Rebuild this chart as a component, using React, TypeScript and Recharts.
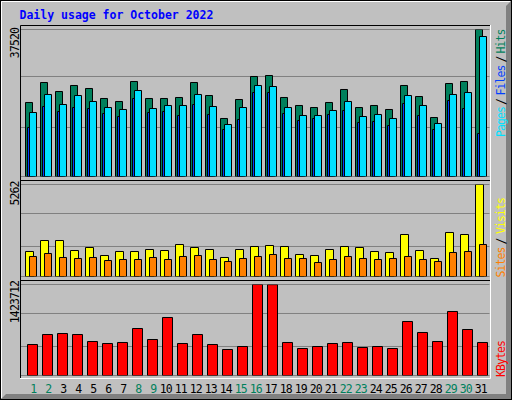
import React from 'react';
import { BarChart, Bar, XAxis, YAxis, CartesianGrid } from 'recharts';

// ---------- data ----------
const days = ['1','2','3','4','5','6','7','8','9','10','11','12','13','14','15','16','17','18','19','20','21','22','23','24','25','26','27','28','29','30','31'];
const weekendDays = ['1','2','8','9','15','16','22','23','29','30'];

const hits = [18888, 23992, 21695, 23227, 22461, 19909, 19143, 24248, 19909, 19909, 20164, 23992, 20674, 14804, 19653, 25524, 25779, 20164, 18122, 17611, 18888, 22206, 17611, 18122, 17101, 23227, 20419, 15059, 23737, 24248, 37520];
const files = [12507, 17867, 16590, 17611, 17356, 16080, 15314, 19909, 16335, 16590, 15570, 18377, 15825, 11996, 14549, 21440, 21440, 16080, 14293, 14804, 15825, 16846, 13783, 14038, 13017, 18632, 15570, 11996, 19398, 17356, 10975];
const pages = [16335, 20930, 18377, 20674, 19143, 17611, 17101, 21950, 17356, 18122, 18122, 20930, 17867, 13272, 17611, 23227, 22971, 17611, 15570, 15570, 16846, 19143, 15314, 15825, 14804, 20674, 18122, 13528, 20930, 21440, 35733];

const visits = [1430, 2059, 2059, 1487, 1659, 1201, 1430, 1430, 1544, 1487, 1830, 1659, 1544, 1087, 1544, 1716, 1773, 1716, 1258, 1201, 1544, 1716, 1659, 1430, 1373, 2402, 1487, 1030, 2517, 2402, 5262];
const sites = [1144, 1316, 1087, 1030, 1087, 915, 972, 972, 1087, 972, 1144, 1201, 972, 858, 1030, 1144, 1258, 1030, 1030, 801, 972, 1144, 1030, 972, 1030, 1144, 972, 858, 1373, 1430, 1830];

const kbytes = [485001, 641453, 657098, 641453, 531937, 500646, 516292, 735324, 563227, 907422, 500646, 641453, 485001, 406775, 453711, 1423712, 1421500, 516292, 422420, 453711, 500646, 516292, 438066, 453711, 422420, 844841, 672744, 531937, 1001293, 719679, 516292];

const hitsMax = 37520;
const visitsMax = 5262;
const kbytesMax = 1423712;
const hitsGrid = [12507, 25524];
const visitsGrid = [1716, 3603];
const kbytesGrid = [453711, 970002];

const title = 'Daily usage for October 2022';

// ---------- styles ----------
const GREEN = '#00805c';
const FILES = '#0040ff';
const PAGES = '#00e0ff';
const VISITS = '#ffff00';
const SITES = '#ff8000';
const KBYTES = '#ff0000';
const GREY = '#c0c0c0';
const DKGREY = '#808080';
const MONO = "'DejaVu Sans Mono', monospace";

const hitsData = days.map((d, i) => ({ day: d, hits: hits[i], files: files[i], pages: pages[i] }));
const visitsData = days.map((d, i) => ({ day: d, visits: visits[i], sites: sites[i] }));
const kbytesData = days.map((d, i) => ({ day: d, kbytes: kbytes[i] }));

const layer: React.CSSProperties = { position: 'absolute', left: 0, top: 0 };

function DayTick(props: any) {
  const { x, payload } = props;
  const label = String(payload.value);
  const shift = label.length === 1 ? 1.3 : -1.2;
  const color = weekendDays.includes(label) ? GREEN : '#000';
  return (
    <text x={x + shift} y={393} textAnchor="middle" fill={color} fontFamily={MONO} fontSize={11.5} letterSpacing={-0.9}>
      {label}
    </text>
  );
}

function UpText({ x, y, text, color, anchor }: { x: number; y: number; text: string; color: string; anchor: 'start' | 'end' }) {
  return (
    <text transform={`translate(${x},${y}) rotate(-90)`} textAnchor={anchor} fill={color} fontFamily={MONO} fontSize={11.5} letterSpacing={-0.9}>
      {text}
    </text>
  );
}

export default function App() {
  return (
    <div style={{ position: 'relative', width: 512, height: 400, background: GREY, overflow: 'hidden' }}>
      <style>{'body{margin:0;}'}</style>
      <svg width={512} height={400} style={layer}>
        <rect x={0} y={0} width={512} height={400} fill={GREY} />
        {/* 3d outer border */}
        <polygon points="506,6 511,1 511,399 1,399 6,394 506,394" fill={DKGREY} />
        <path d="M1.5,398 V1.5 H510" stroke="#fff" strokeWidth={1} fill="none" />
        <rect x={0.5} y={0.5} width={511} height={399} stroke="#000" strokeWidth={1} fill="none" />
        {/* inner frame */}
        <path d="M20.5,378 V25.5 H490" stroke="#000" strokeWidth={1} fill="none" />
        <path d="M490.5,25 V378.5 H20" stroke="#fff" strokeWidth={1} fill="none" />
        <path d="M21,180.5 H490 M21,280.5 H490" stroke="#000" strokeWidth={1} fill="none" />
        {/* title */}
        <text x={19.5} y={18.5} fill="#0000ff" fontFamily={MONO} fontWeight="bold" fontSize={11.5} letterSpacing={0}>
          {title}
        </text>
        {/* left max labels */}
        <UpText x={19} y={28} text={String(hitsMax)} color="#000" anchor="end" />
        <UpText x={19} y={181.5} text={String(visitsMax)} color="#000" anchor="end" />
        <UpText x={19} y={281} text={String(kbytesMax)} color="#000" anchor="end" />
        {/* right legends */}
        <UpText x={505} y={137} text="Pages" color={PAGES} anchor="start" />
        <UpText x={505} y={105} text="/" color="#000" anchor="start" />
        <UpText x={505} y={95.5} text="Files" color={FILES} anchor="start" />
        <UpText x={505} y={62.5} text="/" color="#000" anchor="start" />
        <UpText x={505} y={53.5} text="Hits" color={GREEN} anchor="start" />
        <UpText x={505} y={277.5} text="Sites" color={SITES} anchor="start" />
        <UpText x={505} y={244.5} text="/" color="#000" anchor="start" />
        <UpText x={505} y={234} text="Visits" color={VISITS} anchor="start" />
        <UpText x={505} y={377} text="KBytes" color={KBYTES} anchor="start" />
      </svg>

      <div style={layer}>
        <BarChart width={512} height={400} data={hitsData} margin={{ top: 29.5, right: 22.5, bottom: 223.5, left: 21 }} barGap={-5}>
          <CartesianGrid vertical={false} stroke={DKGREY} />
          <XAxis dataKey="day" hide padding={{ left: 2.5, right: 1 }} />
          <YAxis hide domain={[0, hitsMax]} ticks={hitsGrid} allowDataOverflow />
          <Bar dataKey="hits" fill={GREEN} stroke="#000" strokeWidth={1} barSize={7} isAnimationActive={false} />
          <Bar dataKey="files" fill={FILES} stroke="#000" strokeWidth={1} barSize={7} isAnimationActive={false} />
          <Bar dataKey="pages" fill={PAGES} stroke="#000" strokeWidth={1} barSize={7} isAnimationActive={false} />
        </BarChart>
      </div>

      <div style={layer}>
        <BarChart width={512} height={400} data={visitsData} margin={{ top: 184.5, right: 22.5, bottom: 123.5, left: 21 }} barGap={-4}>
          <CartesianGrid vertical={false} stroke={DKGREY} />
          <XAxis dataKey="day" hide padding={{ left: 2.5, right: 1 }} />
          <YAxis hide domain={[0, visitsMax]} ticks={visitsGrid} allowDataOverflow />
          <Bar dataKey="visits" fill={VISITS} stroke="#000" strokeWidth={1} barSize={8} isAnimationActive={false} />
          <Bar dataKey="sites" fill={SITES} stroke="#000" strokeWidth={1} barSize={7} isAnimationActive={false} />
        </BarChart>
      </div>

      <div style={layer}>
        <BarChart width={512} height={400} data={kbytesData} margin={{ top: 284.5, right: 22.5, bottom: 4.5, left: 21 }}>
          <CartesianGrid vertical={false} stroke={DKGREY} />
          <XAxis dataKey="day" height={20} axisLine={false} tickLine={false} interval={0} padding={{ left: 3.5, right: 0 }} tick={<DayTick />} />
          <YAxis hide domain={[0, kbytesMax]} ticks={kbytesGrid} allowDataOverflow />
          <Bar dataKey="kbytes" fill={KBYTES} stroke="#000" strokeWidth={1} barSize={10} isAnimationActive={false} />
        </BarChart>
      </div>
    </div>
  );
}
